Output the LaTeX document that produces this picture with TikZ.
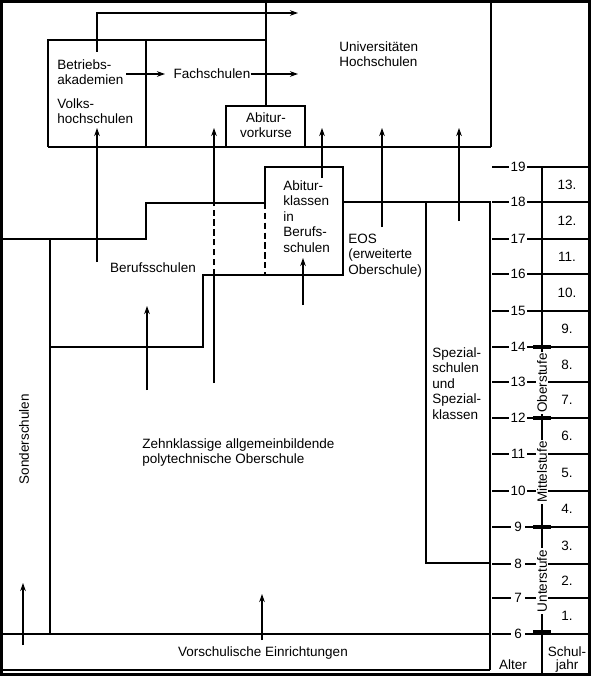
\documentclass[tikz,border=0pt]{standalone}
\usepackage{fontspec}
\setmainfont{Liberation Sans}
\usetikzlibrary{arrows.meta}

\begin{document}
\begin{tikzpicture}[x=0.025cm,y=-0.025cm,>={Stealth[length=2mm,width=1.4mm]},
  font=\fontsize{9.6}{11}\selectfont,
  wall/.style={line width=1.6pt},
  flow/.style={->,line width=0.9pt},
  gap/.style={line width=0.9pt,dash pattern=on 4.5pt off 2.5pt},
  tick/.style={line width=0.8pt},
  lbl/.style={inner sep=0pt,align=left,anchor=base west},
  stufe/.style={rotate=90,fill=white,inner sep=1pt},
  stufebar/.style={line width=2.8pt}]
\useasboundingbox (0,0) rectangle (591,676);
\draw[line width=0.075cm] (1.5,1.5) rectangle (589.5,674.5);
% upper level
\draw[wall] (48,147) -- (48,40) -- (266,40);
\draw[wall] (146,40) -- (146,147);
\draw[wall] (266,0) -- (266,106);
\draw[wall] (226,147) -- (226,106) -- (305,106) -- (305,147);
\draw[wall] (491,0) -- (491,147);
\draw[wall] (48,147) -- (491,147);
\node[lbl] (betr) at (57,84.5) {Betriebs-\\akademien};
\node[lbl] (volks) at (57,123.5) {Volks-\\hochschulen};
\node[inner sep=0pt] (fach) at (212,74) {Fachschulen};
\node[lbl,align=center,anchor=base] (vork) at (266,137.5) {Abitur-\\vorkurse};
\node[lbl] (univ) at (339,66.5) {Universitäten\\Hochschulen};
\draw[flow] (97,52) -- (97,13) -- (298,13);
\draw[flow] (126,74) -- (165,74);
\draw[flow] (fach.east) -- (298,74);
% middle level
\draw[wall] (0,239) -- (146,239) -- (146,203) -- (265,203);
\draw[wall] (265,203) -- (265,167) -- (343,167) -- (343,275) -- (203,275) -- (203,347) -- (50,347);
\draw[wall] (343,202) -- (490,202) -- (490,670);
\draw[wall] (426,202) -- (426,563) -- (490,563);
\draw[wall] (50,239) -- (50,634);
\draw[wall] (0,634) -- (490,634);
\draw[wall] (0,670) -- (490,670);
\draw[gap] (265,203) -- (265,275);
\node[lbl] (abikl) at (283,252) {Abitur-\\klassen\\in\\Berufs-\\schulen};
\node[lbl] (eos) at (348,274) {EOS\\(erweiterte\\Oberschule)};
\node[lbl] (spez) at (432,419) {Spezial-\\schulen\\und\\Spezial-\\klassen};
\node[inner sep=0pt] (beruf) at (153,268) {Berufsschulen};
\node[lbl] (zehn) at (142,463.5) {Zehnklassige allgemeinbildende\\polytechnische Oberschule};
\node[rotate=90,inner sep=0pt] (sonder) at (24,439) {Sonderschulen};
\node[inner sep=0pt] (vorsch) at (263,653) {Vorschulische Einrichtungen};
\draw[flow] (97,262) -- (97,128);
\draw[line width=0.9pt] (214,383) -- (214,275);
\draw[gap] (214,275) -- (214,203);
\draw[flow] (214,203) -- (214,128);
\draw[flow] (322,178) -- (322,128);
\draw[flow] (382,227) -- (382,128);
\draw[flow] (459,221) -- (459,128);
\draw[flow] (147,390) -- (147,306);
\draw[flow] (303,305) -- (303,258);
\draw[flow] (23,645) -- (23,583);
\draw[flow] (262,640) -- (262,594);
% age scale and school years
\draw[tick] (542,167) -- (542,676);
\draw[tick] (492,167) -- (509,167) (527,167) -- (591,167); \node (a19) at (518,167) {19};
\draw[tick] (492,202) -- (509,202) (527,202) -- (591,202); \node (a18) at (518,202) {18};
\draw[tick] (492,239) -- (509,239) (527,239) -- (591,239); \node (a17) at (518,239) {17};
\draw[tick] (492,274) -- (509,274) (527,274) -- (591,274); \node (a16) at (518,274) {16};
\draw[tick] (492,311) -- (509,311) (527,311) -- (591,311); \node (a15) at (518,311) {15};
\draw[tick] (492,347) -- (509,347) (527,347) -- (591,347); \node (a14) at (518,347) {14};
\draw[tick] (492,382) -- (509,382) (527,382) -- (591,382); \node (a13) at (518,382) {13};
\draw[tick] (492,418) -- (509,418) (527,418) -- (591,418); \node (a12) at (518,418) {12};
\draw[tick] (492,454) -- (509,454) (527,454) -- (591,454); \node (a11) at (518,454) {11};
\draw[tick] (492,491) -- (509,491) (527,491) -- (591,491); \node (a10) at (518,491) {10};
\draw[tick] (492,527) -- (511,527) (525,527) -- (591,527); \node (a9) at (518,527) {9};
\draw[tick] (492,564) -- (511,564) (525,564) -- (591,564); \node (a8) at (518,564) {8};
\draw[tick] (492,598) -- (511,598) (525,598) -- (591,598); \node (a7) at (518,598) {7};
\draw[tick] (492,634) -- (511,634) (525,634) -- (591,634); \node (a6) at (518,634) {6};
\node (g13) at (567,185) {13.};
\node (g12) at (567,221) {12.};
\node (g11) at (567,257) {11.};
\node (g10) at (567,293) {10.};
\node (g9) at (567,329) {9.};
\node (g8) at (567,365) {8.};
\node (g7) at (567,400) {7.};
\node (g6) at (567,436) {6.};
\node (g5) at (567,473) {5.};
\node (g4) at (567,509) {4.};
\node (g3) at (567,546) {3.};
\node (g2) at (567,581) {2.};
\node (g1) at (567,616) {1.};
\node[stufe] (ober) at (542,383) {Oberstufe};
\node[stufe] (mittel) at (542,472) {Mittelstufe};
\node[stufe] (unter) at (542,581) {Unterstufe};
\draw[stufebar] (533,347) -- (551,347);
\draw[stufebar] (533,418) -- (551,418);
\draw[stufebar] (533,527) -- (551,527);
\draw[stufebar] (533,632) -- (551,632);
\node[inner sep=0pt,anchor=base] (alter) at (513,669) {Alter};
\node[inner sep=0pt,anchor=base,align=center,font=\fontsize{9.6}{8.6}\selectfont] (schuljahr) at (567,669) {Schul-\\jahr};
\end{tikzpicture}
\end{document}
